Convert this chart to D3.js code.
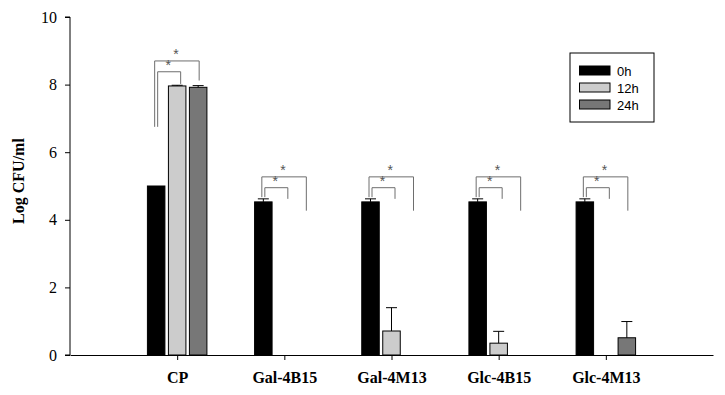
<!DOCTYPE html>
<html>
<head>
<meta charset="utf-8">
<script src="https://cdn.jsdelivr.net/npm/d3@7"></script>
<style>
  body { margin: 0; background: #fff; }
  svg { display: block; }
</style>
</head>
<body>
<div id="chart"></div>
<script>
const categories = ['CP', 'Gal-4B15', 'Gal-4M13', 'Glc-4B15', 'Glc-4M13'];
const series = ['0h', '12h', '24h'];
const colors = ['#000000', '#cccccc', '#777777'];

// mean log CFU/ml per series, one value per category
const values0h = [5.0, 4.53, 4.53, 4.53, 4.53];
const values12h = [7.96, 0, 0.71, 0.35, 0];
const values24h = [7.92, 0, 0, 0, 0.51];
const err0h = [0, 0.09, 0.09, 0.09, 0.09];
const err12h = [0.02, 0, 0.69, 0.35, 0];
const err24h = [0.05, 0, 0, 0, 0.48];

// significance brackets: [top, left end, right end] in data units
const outerBracket = [[8.70, 6.75, 8.12], [5.27, 4.67, 4.27], [5.27, 4.67, 4.27], [5.27, 4.67, 4.27], [5.27, 4.67, 4.27]];
const innerBracket = [[8.38, 6.75, 8.02], [4.95, 4.67, 4.62], [4.95, 4.67, 4.62], [4.95, 4.67, 4.62], [4.95, 4.67, 4.62]];

const yTicks = [0, 2, 4, 6, 8, 10];

const W = 725, H = 395;
const plotLeft = 70, plotRight = 713, plotTop = 17, plotBottom = 355;

const svg = d3.select('#chart').append('svg')
  .attr('width', W)
  .attr('height', H);

const x = d3.scalePoint().domain(categories).range([plotLeft, plotRight]).padding(1);
const y = d3.scaleLinear().domain([0, 10]).range([plotBottom, plotTop]);
const offset = d3.scalePoint().domain(series).range([-21, 21]);
const barW = 17.5;

const allValues = [values0h, values12h, values24h];
const allErr = [err0h, err12h, err24h];

// bars
series.forEach((s, si) => {
  const g = svg.append('g');
  const data = categories.map((c, i) => ({ c, v: allValues[si][i], e: allErr[si][i] }));
  g.selectAll('rect')
    .data(data.filter(d => d.v > 0))
    .enter().append('rect')
    .attr('x', d => x(d.c) + offset(s) - barW / 2)
    .attr('y', d => y(d.v))
    .attr('width', barW)
    .attr('height', d => y(0) - y(d.v))
    .attr('fill', colors[si])
    .attr('stroke', '#000')
    .attr('stroke-width', 1);

  // error bars (upper only)
  const eb = g.selectAll('g.err')
    .data(data.filter(d => d.v > 0 && d.e > 0))
    .enter().append('g')
    .attr('stroke', '#000')
    .attr('stroke-width', 1);
  eb.append('line')
    .attr('x1', d => x(d.c) + offset(s))
    .attr('x2', d => x(d.c) + offset(s))
    .attr('y1', d => y(d.v))
    .attr('y2', d => y(d.v + d.e));
  eb.append('line')
    .attr('x1', d => x(d.c) + offset(s) - 5.5)
    .attr('x2', d => x(d.c) + offset(s) + 5.5)
    .attr('y1', d => y(d.v + d.e))
    .attr('y2', d => y(d.v + d.e));
});

// significance brackets
function bracket(b, i, x1, x2) {
  const cx = x(categories[i]);
  const [t, l, r] = b;
  svg.append('path')
    .attr('d', `M${cx + x1},${y(l)}V${y(t)}H${cx + x2}V${y(r)}`)
    .attr('fill', 'none')
    .attr('stroke', '#6e6e6e')
    .attr('stroke-width', 1);
  svg.append('text')
    .attr('x', cx + (x1 + x2) / 2 - 1)
    .attr('y', y(t) - 2)
    .attr('text-anchor', 'middle')
    .attr('font-family', 'Liberation Sans, Arial, sans-serif')
    .attr('font-size', 14)
    .attr('fill', '#555')
    .text('*');
}
categories.forEach((c, i) => {
  bracket(outerBracket[i], i, -22.5, 22);
  bracket(innerBracket[i], i, -19.5, 3.5);
});

// axes
const yAxis = d3.axisLeft(y).tickValues(yTicks).tickSize(5).tickPadding(8);
svg.append('g')
  .attr('transform', `translate(${plotLeft},0)`)
  .call(yAxis)
  .call(g => g.select('.domain').attr('d', `M-5,${plotTop}H0V${plotBottom}H-5`))
  .call(g => g.selectAll('text')
    .attr('font-family', 'Liberation Serif, Times New Roman, serif')
    .attr('font-size', 16)
    .attr('fill', '#000'));

const xAxis = d3.axisBottom(x).tickSize(5).tickPadding(12).tickSizeOuter(0);
svg.append('g')
  .attr('transform', `translate(0,${plotBottom})`)
  .call(xAxis)
  .call(g => g.selectAll('text')
    .attr('font-family', 'Liberation Serif, Times New Roman, serif')
    .attr('font-size', 16)
    .attr('font-weight', 'bold')
    .attr('fill', '#000'));

svg.append('text')
  .attr('transform', 'translate(24,181) rotate(-90)')
  .attr('text-anchor', 'middle')
  .attr('font-family', 'Liberation Serif, Times New Roman, serif')
  .attr('font-size', 16)
  .attr('font-weight', 'bold')
  .text('Log CFU/ml');

// legend
const legend = svg.append('g').attr('transform', 'translate(570,53)');
legend.append('rect')
  .attr('width', 84).attr('height', 69)
  .attr('fill', '#fff').attr('stroke', '#000');
series.forEach((s, i) => {
  legend.append('rect')
    .attr('x', 9.5).attr('y', 13 + i * 17)
    .attr('width', 30.5).attr('height', 9)
    .attr('fill', colors[i]).attr('stroke', '#000');
  legend.append('text')
    .attr('x', 47).attr('y', 22.5 + i * 17)
    .attr('font-family', 'Liberation Sans, Arial, sans-serif')
    .attr('font-size', 13)
    .text(s);
});
</script>
</body>
</html>
